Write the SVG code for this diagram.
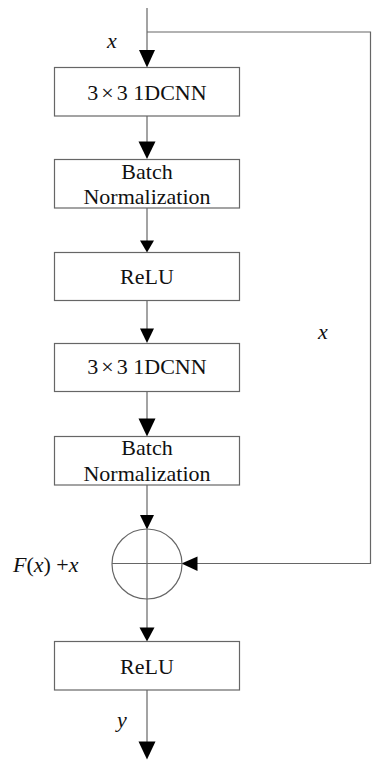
<svg xmlns="http://www.w3.org/2000/svg" width="377" height="761" viewBox="0 0 377 761">
<style>
.box{fill:#fff;stroke:#666;stroke-width:1.2}
.ln{fill:none;stroke:#666;stroke-width:1.2}
.ah{fill:#000}
.t{font-family:"Liberation Serif","Times New Roman",serif;font-size:22px;fill:#111;text-anchor:middle}
.i{font-family:"Liberation Serif","Times New Roman",serif;font-size:22px;font-style:italic;fill:#111}
</style>
<rect width="377" height="761" fill="#fff"/>
<g id="connectors">
<path class="ln" d="M147,8 V52"/>
<path class="ln" d="M147,32 H370.5 V563.5 H195"/>
<path class="ln" d="M147,116 V143"/>
<path class="ln" d="M147,208 V242"/>
<path class="ln" d="M147,300.5 V330"/>
<path class="ln" d="M147,391.5 V420"/>
<path class="ln" d="M147,485 V516"/>
<path class="ln" d="M147,599 V629"/>
<path class="ln" d="M147,690 V743"/>
<path class="ah" d="M139,50 H155 L147,67.5 Z"/>
<path class="ah" d="M138.5,141.5 H155.5 L147,159 Z"/>
<path class="ah" d="M140,240.5 H154 L147,252.5 Z"/>
<path class="ah" d="M140,328.5 H154 L147,343 Z"/>
<path class="ah" d="M138.5,418.5 H155.5 L147,436.5 Z"/>
<path class="ah" d="M140,515 H154 L147,529.5 Z"/>
<path class="ah" d="M197.5,556.5 V571 L181.5,563.5 Z"/>
<path class="ah" d="M139.5,627.5 H154.5 L147,641.5 Z"/>
<path class="ah" d="M138.5,741.5 H155.5 L147,759.5 Z"/>
</g>
<g id="label-x-in"><text class="i" x="107" y="48">x</text></g>
<g id="conv1">
<rect class="box" x="54.5" y="67.5" width="185" height="48.5"/>
<text class="t" x="147" y="100">3<tspan dx="3">×</tspan><tspan dx="3">3</tspan> 1DCNN</text>
</g>
<g id="bn1">
<rect class="box" x="54.5" y="159.5" width="185" height="48.5"/>
<text class="t" x="147" y="178.5">Batch</text>
<text class="t" x="147" y="204">Normalization</text>
</g>
<g id="relu1">
<rect class="box" x="54.5" y="252.5" width="185" height="48"/>
<text class="t" x="147" y="284">ReLU</text>
</g>
<g id="conv2">
<rect class="box" x="54.5" y="343.5" width="185" height="48"/>
<text class="t" x="147" y="374">3<tspan dx="3">×</tspan><tspan dx="3">3</tspan> 1DCNN</text>
</g>
<g id="bn2">
<rect class="box" x="54.5" y="436.5" width="185" height="48.5"/>
<text class="t" x="147" y="455">Batch</text>
<text class="t" x="147" y="481">Normalization</text>
</g>
<g id="label-x-skip"><text class="i" x="318" y="339">x</text></g>
<g id="add">
<circle class="ln" cx="147" cy="564" r="35"/>
<path class="ln" d="M112,563.5 H182 M147,529 V599"/>
</g>
<g id="label-sum"><text class="i" x="13" y="571.5">F<tspan font-style="normal">(</tspan>x<tspan font-style="normal">) +</tspan>x</text></g>
<g id="relu2">
<rect class="box" x="54.5" y="641.5" width="185" height="48.5"/>
<text class="t" x="147" y="674">ReLU</text>
</g>
<g id="label-y"><text class="i" x="117" y="727">y</text></g>
</svg>
